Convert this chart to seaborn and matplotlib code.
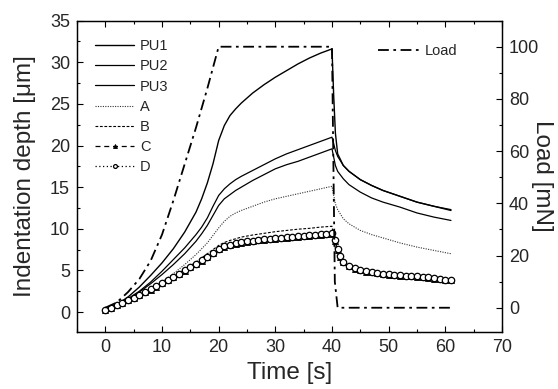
import seaborn as sns
import matplotlib.pyplot as plt
from matplotlib.ticker import MultipleLocator

# time axes (s)
t_line = [0, 2, 4, 6, 8, 10, 12, 14, 16, 17, 18, 19, 20, 21, 22, 23, 24, 26, 28, 30, 32, 34, 36, 38, 40,
          40.3, 40.6, 41, 42, 43, 45, 47, 49, 52, 55, 58, 61]
t_dense = list(range(0, 41)) + [40.5, 41, 41.5] + list(range(42, 62))
t_load = [0, 2, 4, 6, 8, 10, 12, 14, 16, 18, 20, 40, 40.5, 41, 61]

# indentation depth (um)
pu1 = [0.3, 0.9, 1.8, 3.0, 4.4, 5.9, 7.6, 9.6, 12.0, 13.6, 15.5, 17.8, 20.6, 22.4, 23.6, 24.4, 25.1,
       26.3, 27.3, 28.2, 29.0, 29.8, 30.5, 31.1, 31.6,
       26.0, 21.5, 19.0, 17.6, 16.9, 15.9, 15.2, 14.6, 13.9, 13.2, 12.7, 12.2]
pu2 = [0.3, 0.8, 1.6, 2.5, 3.6, 4.9, 6.3, 7.7, 9.3, 10.2, 11.3, 12.7, 14.0, 14.8, 15.4, 15.9, 16.3,
       17.0, 17.7, 18.4, 19.0, 19.5, 20.0, 20.5, 21.0,
       20.2, 19.4, 18.7, 17.6, 16.9, 15.9, 15.2, 14.6, 13.9, 13.2, 12.7, 12.3]
pu3 = [0.3, 0.8, 1.5, 2.4, 3.4, 4.5, 5.7, 7.0, 8.5, 9.4, 10.4, 11.6, 12.8, 13.6, 14.1, 14.6, 15.0,
       15.8, 16.5, 17.2, 17.7, 18.1, 18.6, 19.1, 19.6,
       18.6, 17.6, 16.9, 16.0, 15.3, 14.4, 13.7, 13.2, 12.6, 11.9, 11.4, 11.0]
a_vals = [0.3, 0.7, 1.2, 1.9, 2.7, 3.6, 4.6, 5.7, 6.9, 7.6, 8.3, 9.2, 10.1, 10.9, 11.5, 11.9, 12.2,
          12.7, 13.2, 13.6, 13.9, 14.2, 14.5, 14.8, 15.1,
          14.0, 13.0, 12.3, 11.2, 10.6, 9.8, 9.3, 8.9, 8.3, 7.8, 7.4, 7.0]
b_vals = [0.3, 0.7, 1.2, 1.8, 2.6, 3.5, 4.3, 5.1, 6.0, 6.5, 7.0, 7.5, 8.0, 8.35, 8.6, 8.8, 9.0,
          9.25, 9.45, 9.65, 9.8, 9.95, 10.05, 10.2, 10.3,
          9.0, 7.6, 6.7, 5.9, 5.5, 5.0, 4.75, 4.6, 4.4, 4.25, 4.05, 3.9]
c_vals = [0.25, 0.5, 0.8, 1.1, 1.4, 1.7, 2.0, 2.35, 2.7, 3.05, 3.45, 3.8, 4.15, 4.55, 4.95, 5.35, 5.75, 6.15, 6.55, 7.05, 7.55,
          7.85, 8.05, 8.2, 8.33, 8.43, 8.52, 8.6, 8.67, 8.74, 8.8, 8.86, 8.92, 8.98, 9.04, 9.1, 9.16, 9.22, 9.28, 9.34, 9.4,
          8.5, 7.5, 6.6, 5.95, 5.5, 5.2, 5.0, 4.85, 4.75, 4.65, 4.57, 4.5, 4.43, 4.37, 4.32, 4.27, 4.23, 4.17, 4.1, 4.0, 3.93, 3.87, 3.82]
d_vals = [0.25, 0.5, 0.8, 1.1, 1.4, 1.7, 2.0, 2.4, 2.75, 3.1, 3.5, 3.85, 4.2, 4.6, 5.0, 5.4, 5.8, 6.2, 6.6, 7.1, 7.6,
          7.9, 8.1, 8.25, 8.38, 8.48, 8.57, 8.65, 8.72, 8.79, 8.85, 8.91, 8.97, 9.03, 9.09, 9.15, 9.21, 9.27, 9.33, 9.39, 9.45,
          8.6, 7.6, 6.7, 6.0, 5.55, 5.25, 5.05, 4.9, 4.8, 4.7, 4.62, 4.55, 4.48, 4.42, 4.37, 4.32, 4.28, 4.22, 4.15, 4.05, 3.97, 3.9, 3.85]

# load (mN)
load = [0, 2, 6, 11, 18, 28, 41, 55, 69, 84, 100, 100, 10, 0, 0]

sns.set_style("ticks")
plt.rcParams["font.family"] = ["Liberation Sans", "DejaVu Sans"]
plt.rcParams["xtick.direction"] = "in"
plt.rcParams["ytick.direction"] = "in"

fig = plt.figure(figsize=(5.58, 3.89), dpi=100)
ax = fig.add_axes([0.138, 0.1465, 0.7616, 0.8005])
ax2 = ax.twinx()

sns.lineplot(x=t_line, y=pu1, ax=ax, color="k", lw=1.0, label="PU1")
sns.lineplot(x=t_line, y=pu2, ax=ax, color="k", lw=0.9, label="PU2")
sns.lineplot(x=t_line, y=pu3, ax=ax, color="k", lw=0.9, label="PU3")
sns.lineplot(x=t_line, y=a_vals, ax=ax, color="#333333", lw=0.8, linestyle=(0, (1, 1.2)), label="A")
sns.lineplot(x=t_line, y=b_vals, ax=ax, color="k", lw=0.8, linestyle=(0, (2.5, 1.5)), label="B")
sns.lineplot(x=t_dense, y=c_vals, ax=ax, color="k", lw=0.9, linestyle=(0, (4, 3)),
             marker="^", markersize=4.8, markerfacecolor="k", markeredgecolor="k", markeredgewidth=0.6, label="C")
sns.lineplot(x=t_dense, y=d_vals, ax=ax, color="k", lw=0.9, linestyle=(0, (1, 2)),
             marker="o", markersize=4.6, markerfacecolor="white", markeredgecolor="k", markeredgewidth=0.9, label="D")

sns.lineplot(x=t_load, y=load, ax=ax2, color="k", lw=1.3, linestyle=(0, (6, 2.5, 1.5, 2.5)), label="Load")

ax.set_xlim(-5, 70)
ax.set_ylim(-2.4, 35)
ax2.set_ylim(-9.3, 110)

ax.xaxis.set_major_locator(MultipleLocator(10))
ax.xaxis.set_minor_locator(MultipleLocator(5))
ax.yaxis.set_major_locator(MultipleLocator(5))
ax.yaxis.set_minor_locator(MultipleLocator(2.5))
ax2.yaxis.set_major_locator(MultipleLocator(20))
ax2.yaxis.set_minor_locator(MultipleLocator(10))

ax.tick_params(which="both", top=True, right=False, labelsize=13, width=0.8, color="k")
ax.tick_params(axis="x", which="major", pad=5)
ax.tick_params(axis="y", which="major", pad=5)
ax.tick_params(which="major", length=4.5)
ax.tick_params(which="minor", length=2.5)
ax2.tick_params(which="both", labelsize=13, width=0.8, color="k")
ax2.tick_params(which="major", length=4.5, pad=5)
ax2.tick_params(which="minor", length=2.5)

for sp in ax.spines.values():
    sp.set_linewidth(0.9)
    sp.set_color("k")
for sp in ax2.spines.values():
    sp.set_linewidth(0.9)
    sp.set_color("k")

ax.set_xlabel("Time [s]", fontsize=17.5, labelpad=4)
ax.set_ylabel("Indentation depth [\u03bcm]", fontsize=17.5, labelpad=10)
ax2.set_ylabel("Load [mN]", fontsize=17.5, rotation=270, labelpad=10)

ax.legend(loc="upper left", bbox_to_anchor=(0.042, 0.94), frameon=False, fontsize=10.5, markerscale=0.6,
          borderpad=0, borderaxespad=0, handlelength=2.7, handletextpad=0.4, labelspacing=0.42)
ax2.legend(loc="upper left", bbox_to_anchor=(0.708, 0.925), frameon=False, fontsize=10.5,
           borderpad=0, borderaxespad=0, handlelength=2.9, handletextpad=0.3)

plt.savefig("out.png", dpi=100)
